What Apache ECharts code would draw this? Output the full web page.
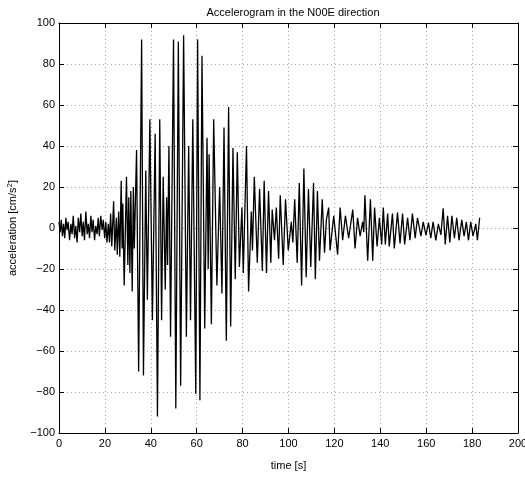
<!DOCTYPE html>
<html>
<head>
<meta charset="utf-8">
<script src="https://cdn.jsdelivr.net/npm/echarts@6/dist/echarts.min.js"></script>
<style>
  html, body { margin: 0; padding: 0; background: #fff; }
  #chart { width: 525px; height: 478px; }
</style>
</head>
<body>
<div id="chart"></div>
<script>
// Recorded acceleration peaks (time in s, acceleration in cm/s^2)
const timeS = [
  0.0, 0.5, 1.0, 1.5, 2.0, 2.5, 3.0, 3.5, 4.0, 4.6, 5.2, 5.7, 6.2, 6.8, 7.3, 7.9,
  8.4, 9.0, 9.5, 10.1, 10.6, 11.1, 11.7, 12.3, 12.8, 13.3, 13.9, 14.4, 14.9, 15.5,
  16.0, 16.6, 17.1, 17.6, 18.2, 18.8, 19.3, 19.9, 20.4, 20.9, 21.5, 22.0, 22.5, 23.0,
  23.8, 24.3, 25.0, 25.4, 26.0, 26.5, 27.1, 27.5, 27.8, 28.4, 29.4, 30.0, 30.4, 30.9,
  31.3, 31.9, 32.4, 32.8, 33.8, 34.7, 36.0, 36.8, 37.8, 38.5, 39.6, 40.7, 41.9, 42.9,
  43.9, 44.7, 45.4, 46.3, 46.9, 47.3, 47.9, 48.6, 49.9, 50.9, 52.0, 53.0, 54.3, 55.5,
  56.5, 57.3, 58.3, 59.6, 60.4, 61.4, 62.3, 63.5, 64.5, 65.0, 65.4, 66.4, 67.4, 68.8,
  70.0, 71.0, 71.9, 72.9, 73.9, 74.8, 75.8, 76.8, 77.7, 78.6, 79.7, 80.3, 81.7, 82.6,
  83.8, 84.3, 85.1, 86.4, 87.4, 88.6, 89.4, 90.4, 91.3, 92.3, 92.9, 93.9, 94.7, 95.7,
  96.4, 97.7, 98.7, 99.9, 101.2, 101.9, 102.7, 103.8, 104.7, 105.7, 106.7, 107.7, 108.7,
  109.7, 110.9, 111.7, 112.6, 113.5, 114.7, 115.7, 116.5, 117.5, 118.1, 119.7, 121.4,
  122.5, 123.6, 124.8, 126.2, 128.0, 129.0, 130.1, 131.2, 132.3, 132.8, 133.3, 134.5,
  135.7, 136.7, 137.5, 138.6, 139.6, 140.6, 141.3, 142.2, 143.2, 143.9, 145.3, 146.1,
  147.5, 148.6, 149.7, 150.6, 151.9, 152.9, 154.0, 155.2, 156.2, 157.7, 158.7, 159.9,
  161.0, 162.0, 163.0, 164.2, 165.3, 166.4, 167.4, 168.3, 169.3, 170.3, 171.2, 172.3,
  173.3, 174.3, 175.5, 176.5, 177.5, 178.4, 179.4, 180.4, 181.6, 182.3, 183.3
];
const accel = [
  3, -2, 4, -4, 2, -5, 5, -1, 3, -6, 2, -3, 6, -5, 1, -7,
  5, -2, 7, -4, 3, -6, 8, -3, 2, -5, 6, -2, 4, -6,
  1, -3, 5, -4, 6, -1, 4, -5, 3, -7, 2, -7, 7, -9,
  13, -11, 5, -13, 8, -14, 23, -10, 12, -28, 25, -18, 15, -22,
  18, -31, 20, -10, 38, -70, 92, -72, 28, -35, 53, -45, 46, -92,
  53, -45, 25, -30, 15, -18, 40, -53, 92, -88, 91, -77, 94, -53,
  40, -45, 53, -81, 92, -84, 84, -49, 44, -20, 36, -47, 53, -28,
  20, -32, 49, -55, 59, -48, 39, -25, 37, -19, 10, -22, 40, -31,
  8, -11, 25, -17, 19, -21, 23, -22, 18, -17, 9, -6, 10, -15,
  16, -18, 14, -11, 3, -7, 14, -17, 22, -28, 29, -24, 19,
  -19, 22, -25, 18, -16, 14, -12, 4, 10, -11, 6, -13,
  10, -6, 6, -5, 9, -10, 5, -4, 3, -2, 16, -16,
  14, -16, 10, -9, 5, -8, 10, -8, 7, -9, 7, -10,
  7.5, -7.5, 7, -8, 5, -6, 7, -5, 5, -4, 3, -3.5,
  2.6, -5, 3, -6, 2, -3.4, 9.6, -8, 6, -7, 6, -5,
  5, -6, 4, -4, 3, -6, 3, -4, 2, -6, 5
];

const xTicks = { min: 0, max: 200, step: 20 };
const yTicks = { min: -100, max: 100, step: 20 };

const series = timeS.map((t, i) => [t, accel[i]]);

const chart = echarts.init(document.getElementById('chart'), null, { renderer: 'canvas' });
const font = 'Liberation Sans, Arial, Helvetica, sans-serif';

// typographic minus for negative tick labels
const minusFmt = (v) => String(v).replace('-', '\u2212');

const dotted = { show: true, lineStyle: { color: '#a8a8a8', type: [1, 3], width: 1 } };
const frameLine = { show: true, onZero: false, lineStyle: { color: '#000', width: 1 } };
const inTick = { show: true, inside: true, length: 5, lineStyle: { color: '#000', width: 1 } };

chart.setOption({
  animation: false,
  backgroundColor: '#fff',
  textStyle: { fontFamily: font },
  title: {
    text: 'Accelerogram in the N00E direction',
    left: 288, top: 2, textAlign: 'center',
    textStyle: { fontSize: 11, fontWeight: 'normal', color: '#000', fontFamily: font }
  },
  grid: { left: 59, right: 7, top: 23, bottom: 45, containLabel: false, outerBoundsMode: 'none' },
  xAxis: [
    {
      type: 'value', min: xTicks.min, max: xTicks.max, interval: xTicks.step,
      position: 'bottom',
      name: 'time [s]', nameLocation: 'middle', nameGap: 27,
      nameTextStyle: { fontSize: 11, color: '#000', fontFamily: font },
      axisLine: frameLine, axisTick: inTick, splitLine: dotted,
      axisLabel: { fontSize: 11, color: '#000', margin: 5, fontFamily: font, formatter: minusFmt }
    },
    {
      type: 'value', min: xTicks.min, max: xTicks.max, interval: xTicks.step,
      position: 'top', axisLine: frameLine, axisTick: inTick,
      splitLine: { show: false }, axisLabel: { show: false }
    }
  ],
  yAxis: [
    {
      type: 'value', min: yTicks.min, max: yTicks.max, interval: yTicks.step,
      position: 'left',
      name: 'acceleration [cm/s{sup|2}]', nameLocation: 'middle', nameGap: 40, nameRotate: 90,
      nameTextStyle: {
        fontSize: 11, color: '#000', fontFamily: font,
        rich: { sup: { fontSize: 8, color: '#000', verticalAlign: 'top', padding: [0, 0, 5, 0], fontFamily: font } }
      },
      axisLine: frameLine, axisTick: inTick, splitLine: dotted,
      axisLabel: { fontSize: 11, color: '#000', margin: 4, fontFamily: font, formatter: minusFmt }
    },
    {
      type: 'value', min: yTicks.min, max: yTicks.max, interval: yTicks.step,
      position: 'right', axisLine: frameLine, axisTick: inTick,
      splitLine: { show: false }, axisLabel: { show: false }
    }
  ],
  series: [{
    type: 'line',
    data: series,
    xAxisIndex: 0, yAxisIndex: 0,
    showSymbol: false,
    lineStyle: { color: '#000', width: 1.3 },
    emphasis: { disabled: true }
  }]
});
</script>
</body>
</html>
